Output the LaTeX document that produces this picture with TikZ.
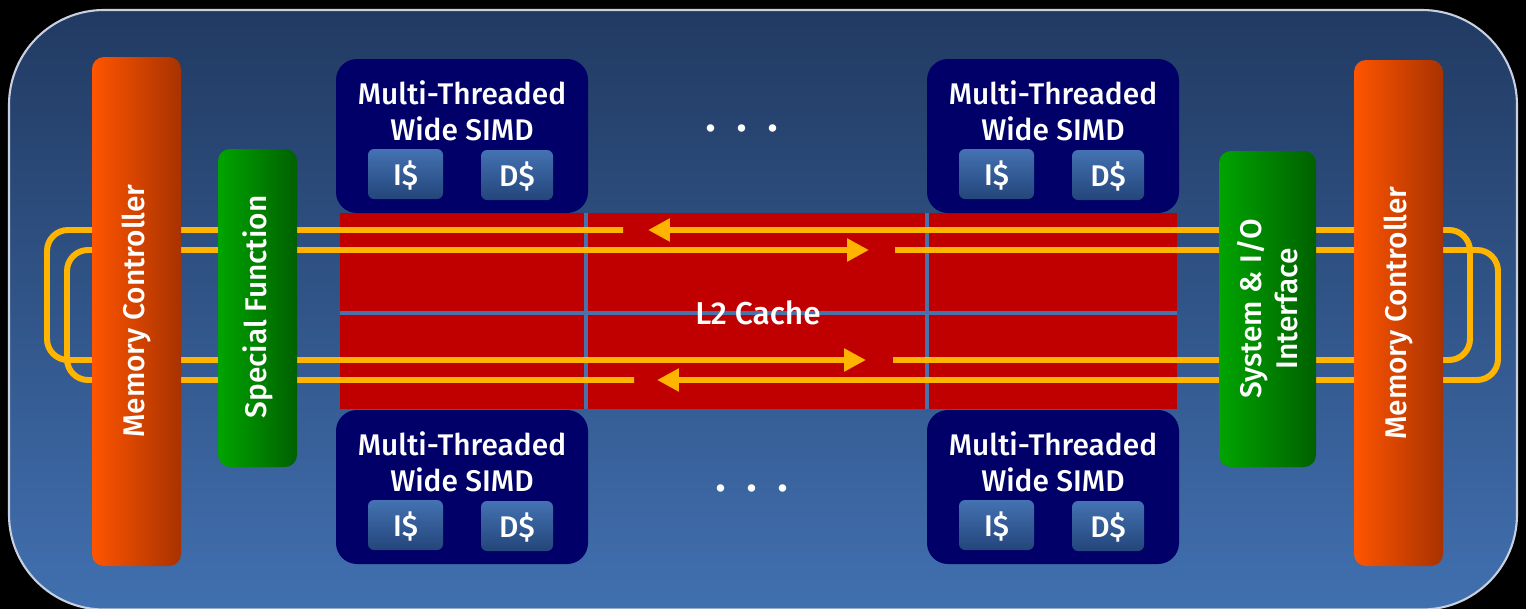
\documentclass[tikz,border=0pt]{standalone}
\usepackage{fontspec}
\setmainfont{Fira Sans Medium}
\usetikzlibrary{arrows.meta}
\definecolor{bgtop}{HTML}{213A62}
\definecolor{bgbot}{HTML}{4170B0}
\definecolor{rimcol}{HTML}{C8D0E0}
\definecolor{orgL}{HTML}{FF5500}
\definecolor{orgR}{HTML}{A83200}
\definecolor{grnL}{HTML}{00A400}
\definecolor{grnR}{HTML}{006000}
\definecolor{navyblk}{HTML}{000068}
\definecolor{cacheTop}{HTML}{4472B2}
\definecolor{cacheBot}{HTML}{23457A}
\definecolor{l2red}{HTML}{C00000}
\definecolor{gridblue}{HTML}{4A72AA}
\definecolor{busyellow}{HTML}{FFB400}
\begin{document}
\begin{tikzpicture}[x=0.02cm,y=-0.02cm,
  txt/.style={text=white,font=\fontsize{17}{20.5}\selectfont,inner sep=0pt,align=center},
  smalltxt/.style={text=white,font=\fontsize{17}{18}\selectfont,inner sep=0pt},
  dotstxt/.style={text=white,font=\fontsize{26}{26}\selectfont,inner sep=0pt},
  orangebar/.style={left color=orgL,right color=orgR,rounded corners=0.24cm},
  greenbar/.style={left color=grnL,right color=grnR,rounded corners=0.24cm},
  simdblock/.style={fill=navyblk,rounded corners=0.42cm},
  cachebox/.style={top color=cacheTop,bottom color=cacheBot,rounded corners=0.12cm},
  gridline/.style={draw=gridblue,line width=2.3pt},
  bus/.style={draw=busyellow,line width=3.4pt,rounded corners=0.42cm},
  tip/.style={-{Triangle[length=12.5pt,width=12.5pt]}}]
\useasboundingbox (0,0) rectangle (1526,609);
\fill[black] (0,0) rectangle (1526,609);
% outer board
\path[top color=bgtop,bottom color=bgbot,draw=rimcol,line width=1.2pt,rounded corners=1.9cm]
  (9,10) rectangle (1517,609.5);
% L2 cache
\fill[l2red] (340,213) rectangle (1177,409);
\draw[gridline] (586,213) -- (586,409);
\draw[gridline] (927,213) -- (927,409);
\draw[gridline] (340,313) -- (1177,313);
% ring bus
\draw[bus,tip] (623,230) -- (47,230) -- (47,360) -- (866,360);
\draw[bus,tip] (634,380) -- (67,380) -- (67,250) -- (869,250);
\draw[bus,tip] (893,360) -- (1470,360) -- (1470,230) -- (648,230);
\draw[bus,tip] (895,250) -- (1498,250) -- (1498,380) -- (657,380);
% bars
\path[orangebar] (92,57) rectangle (181,566);
\path[orangebar] (1354,60) rectangle (1443,566);
\path[greenbar] (218,149) rectangle (297,467);
\path[greenbar] (1219,151) rectangle (1316,467);
\node[txt,rotate=90] (mcL) at (136.5,311) {Memory Controller};
\node[txt,rotate=90] (mcR) at (1398.5,313) {Memory Controller};
\node[txt,rotate=90] (sf) at (257.5,307) {Special Function};
\node[txt,rotate=90] (sio) at (1267.5,309) {System \& I/O\\Interface};
% SIMD blocks
\foreach \dx/\dy/\nm in {0/0/TL,591/0/TR,0/351/BL,591/351/BR}{
  \path[simdblock] (336+\dx,59+\dy) rectangle (588+\dx,213+\dy);
  \path[cachebox] (368+\dx,149+\dy) rectangle (443+\dx,199+\dy);
  \path[cachebox] (481+\dx,150+\dy) rectangle (553+\dx,200+\dy);
  \node[txt] (simd\nm) at (462+\dx,111+\dy) {Multi-Threaded\\Wide SIMD};
  \node[smalltxt] (icache\nm) at (405.5+\dx,176+\dy) {I\$};
  \node[smalltxt] (dcache\nm) at (517+\dx,177+\dy) {D\$};
}
\node[txt,font=\fontsize{18}{20}\selectfont] (l2) at (758,313) {L2 Cache};
\node[dotstxt,anchor=base] (dotsTop) at (742,131) {\makebox[0.63cm]{.}\makebox[0.63cm]{.}\makebox[0.63cm]{.}};
\node[dotstxt,anchor=base] (dotsBot) at (752,491) {\makebox[0.63cm]{.}\makebox[0.63cm]{.}\makebox[0.63cm]{.}};
\end{tikzpicture}
\end{document}
